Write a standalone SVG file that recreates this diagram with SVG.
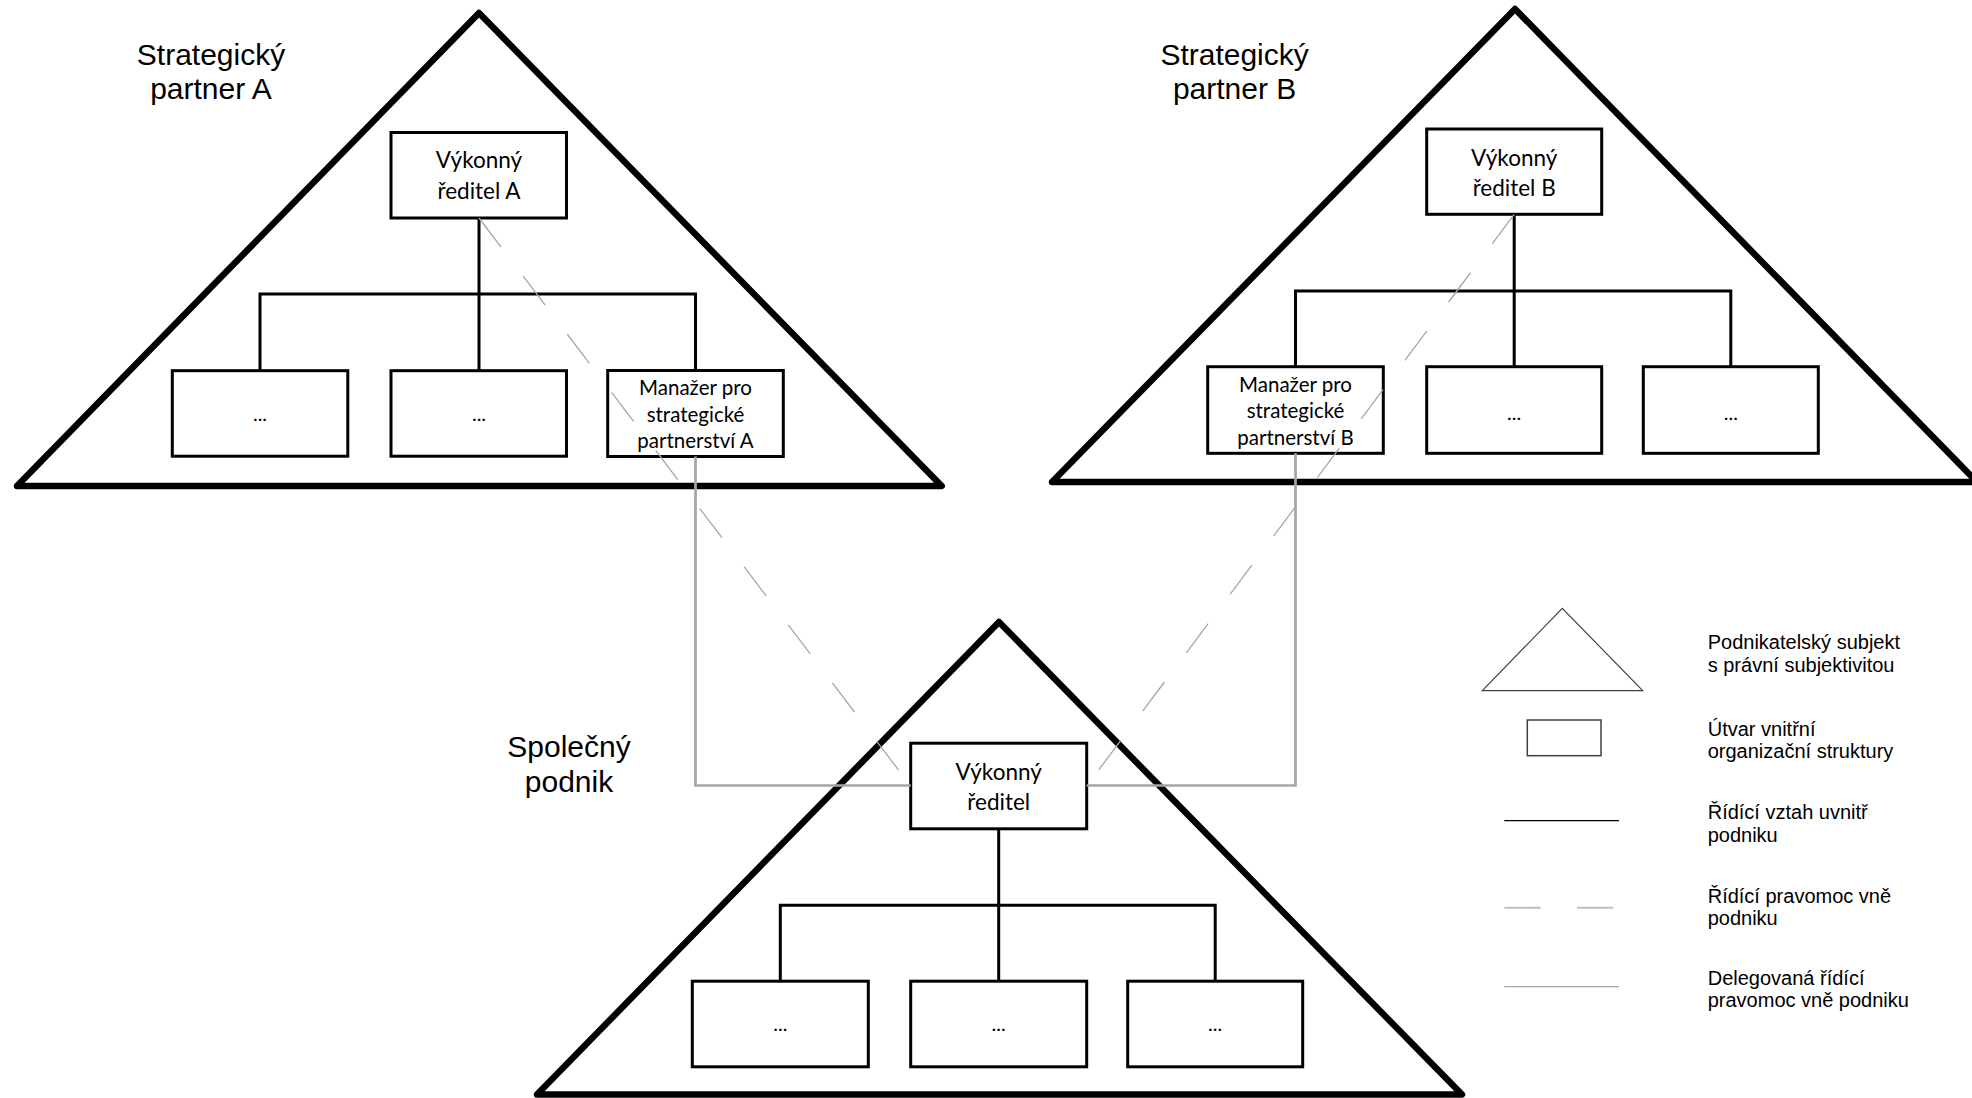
<svg xmlns="http://www.w3.org/2000/svg" width="1972" height="1098" viewBox="0 0 1972 1098">
<style>
.tri{fill:#fff;stroke:#000;stroke-width:6.5;stroke-linejoin:round}
.box{fill:#fff;stroke:#000;stroke-width:3}
.org{fill:none;stroke:#000;stroke-width:3}
.del{fill:none;stroke:#a6a6a6;stroke-width:2.7}
.ext{fill:none;stroke:#a6a6a6;stroke-width:1.3;stroke-dasharray:36.5 36.5}
.title{font-family:"Liberation Sans",Arial,sans-serif;font-size:30px;fill:#000;text-anchor:middle}
.bt{font-family:Lato,"Open Sans",sans-serif;font-size:22.5px;fill:#000;text-anchor:middle}
.mt{font-family:Lato,"Open Sans",sans-serif;font-size:20.5px;fill:#000;text-anchor:middle}
.dots{font-family:Lato,"Open Sans",sans-serif;font-size:20px;fill:#000;text-anchor:middle}
.lg{font-family:"Liberation Sans",Arial,sans-serif;font-size:20px;fill:#000}
</style>
<rect width="1972" height="1098" fill="#fff"/>

<g id="entity-A">
  <polygon class="tri" points="17,486 479,13 941.7,486"/>
  <text class="title" x="211" y="65">Strategický</text>
  <text class="title" x="211" y="99">partner A</text>
</g>
<g id="entity-B">
  <polygon class="tri" points="1052,482 1515,9 1977,482"/>
  <text class="title" x="1234.6" y="65">Strategický</text>
  <text class="title" x="1234.6" y="99">partner B</text>
</g>
<g id="entity-J">
  <polygon class="tri" points="537,1094.5 999,622 1462,1094.5"/>
  <text class="title" x="569" y="757.2">Společný</text>
  <text class="title" x="569" y="791.5">podnik</text>
</g>

<g id="ceo-A">
  <rect class="box" x="391" y="132.5" width="175.5" height="85.5"/>
  <text class="bt" x="479" y="168.3">Výkonný</text>
  <text class="bt" x="479" y="199">ředitel A</text>
</g>
<g id="unit-A1">
  <rect class="box" x="172.3" y="370.7" width="175.5" height="85.5"/>
  <text class="dots" x="260" y="421">...</text>
</g>
<g id="unit-A2">
  <rect class="box" x="391" y="370.7" width="175.5" height="85.5"/>
  <text class="dots" x="479" y="421">...</text>
</g>
<g id="manager-A">
  <rect class="box" x="607.7" y="370.5" width="175.6" height="86"/>
  <text class="mt" x="695.5" y="395">Manažer pro</text>
  <text class="mt" x="695.5" y="421.7">strategické</text>
  <text class="mt" x="695.5" y="448.3">partnerství A</text>
</g>

<g id="ceo-B">
  <rect class="box" x="1426.7" y="129" width="175" height="85.3"/>
  <text class="bt" x="1514.2" y="166">Výkonný</text>
  <text class="bt" x="1514.2" y="196">ředitel B</text>
</g>
<g id="manager-B">
  <rect class="box" x="1207.7" y="366.7" width="175.6" height="86.6"/>
  <text class="mt" x="1295.5" y="391.5">Manažer pro</text>
  <text class="mt" x="1295.5" y="418.3">strategické</text>
  <text class="mt" x="1295.5" y="445">partnerství B</text>
</g>
<g id="unit-B2">
  <rect class="box" x="1426.7" y="366.7" width="175" height="86.6"/>
  <text class="dots" x="1514.2" y="420">...</text>
</g>
<g id="unit-B3">
  <rect class="box" x="1643.3" y="366.7" width="175" height="86.6"/>
  <text class="dots" x="1730.8" y="420">...</text>
</g>

<g id="ceo-J">
  <rect class="box" x="910.7" y="743.2" width="176" height="85.6"/>
  <text class="bt" x="998.7" y="780">Výkonný</text>
  <text class="bt" x="998.7" y="810">ředitel</text>
</g>
<g id="unit-J1">
  <rect class="box" x="692.3" y="981.2" width="176" height="85.6"/>
  <text class="dots" x="780.3" y="1031">...</text>
</g>
<g id="unit-J2">
  <rect class="box" x="910.7" y="981.2" width="176" height="85.6"/>
  <text class="dots" x="998.7" y="1031">...</text>
</g>
<g id="unit-J3">
  <rect class="box" x="1127.7" y="981.2" width="175" height="85.6"/>
  <text class="dots" x="1215.2" y="1031">...</text>
</g>

<g id="connectors">
  <path class="org" d="M260,370.7 V294 H695.5 V370.5 M479,218 V370.7"/>
  <path class="org" d="M1295.5,366.7 V291 H1730.8 V366.7 M1514.2,214.3 V366.7"/>
  <path class="org" d="M780.3,981.2 V905.2 H1215.2 V981.2 M998.7,828.8 V981.2"/>
  <path class="del" d="M695.5,456.5 V785.5 H910.7"/>
  <path class="del" d="M1295.5,453.3 V785.5 H1086.7"/>
  <line class="ext" x1="479" y1="218" x2="910.7" y2="786"/>
  <line class="ext" x1="1514.2" y1="214.3" x2="1086.7" y2="786"/>
</g>

<g id="legend">
  <polygon points="1482.3,690.7 1562.3,608.3 1642.7,690.7" fill="none" stroke="#404040" stroke-width="1.2"/>
  <rect x="1527.3" y="720" width="73.7" height="35.7" fill="none" stroke="#404040" stroke-width="1.5"/>
  <line x1="1504.3" y1="820.7" x2="1619" y2="820.7" stroke="#000" stroke-width="1.3"/>
  <line x1="1504.3" y1="907.7" x2="1613.3" y2="907.7" stroke="#c0c0c0" stroke-width="2" stroke-dasharray="36.4 36.4"/>
  <line x1="1504.3" y1="986.7" x2="1619" y2="986.7" stroke="#a6a6a6" stroke-width="1.3"/>
  <text class="lg" x="1707.7" y="649.3">Podnikatelský subjekt</text>
  <text class="lg" x="1707.7" y="671.7">s právní subjektivitou</text>
  <text class="lg" x="1707.7" y="736">Útvar vnitřní</text>
  <text class="lg" x="1707.7" y="757.7">organizační struktury</text>
  <text class="lg" x="1707.7" y="819.3">Řídící vztah uvnitř</text>
  <text class="lg" x="1707.7" y="841.7">podniku</text>
  <text class="lg" x="1707.7" y="903.3">Řídící pravomoc vně</text>
  <text class="lg" x="1707.7" y="925">podniku</text>
  <text class="lg" x="1707.7" y="985">Delegovaná řídící</text>
  <text class="lg" x="1707.7" y="1007.3">pravomoc vně podniku</text>
</g>
</svg>
